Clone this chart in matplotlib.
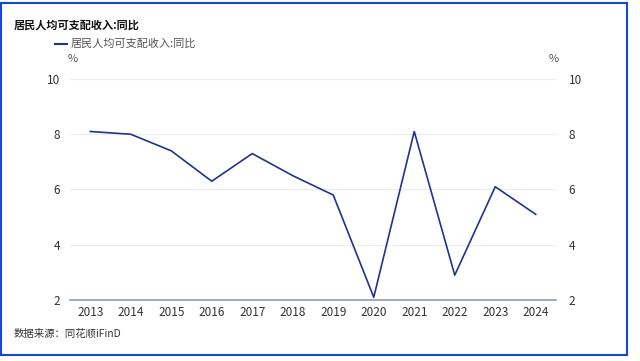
import matplotlib.pyplot as plt
from matplotlib.patches import Rectangle
from matplotlib.lines import Line2D

plt.rcParams['font.family'] = ['Noto Sans CJK SC', 'DejaVu Sans']
plt.rcParams['axes.unicode_minus'] = False

years = ['2013', '2014', '2015', '2016', '2017', '2018',
         '2019', '2020', '2021', '2022', '2023', '2024']
yoy = [8.1, 8.0, 7.4, 6.3, 7.3, 6.5, 5.8, 2.1, 8.1, 2.9, 6.1, 5.1]
yticks = [2, 4, 6, 8, 10]
title = '居民人均可支配收入:同比'
source = '数据来源：同花顺iFinD'

W, H = 640, 361
fig = plt.figure(figsize=(W / 100, H / 100), dpi=100)

# 外框
fig.patches.append(Rectangle((1 / W, (H - 355) / H), 626 / W, 352 / H,
                             transform=fig.transFigure, fill=False,
                             edgecolor='#1447d6', linewidth=1.5))

ax = fig.add_axes([70 / W, (H - 300) / H, 486 / W, 221 / H])
x = range(len(years))
line_color = '#23328c'
ax.plot(x, yoy, color=line_color, linewidth=1.2)
ax.set_xlim(-0.5, len(years) - 0.5)
ax.set_ylim(2, 10)
ax.set_xticks(list(x))
ax.set_xticklabels(years)
ax.set_yticks(yticks)
ax.grid(axis='y', color='#ececf2', linewidth=0.8)
ax.set_axisbelow(True)
for s in ['top', 'left', 'right']:
    ax.spines[s].set_visible(False)
ax.spines['bottom'].set_color('#8a99bd')
ax.spines['bottom'].set_linewidth(1.2)
ax.tick_params(axis='both', length=0, labelsize=8.5, colors='#333333')
ax.tick_params(axis='x', pad=4)
ax.tick_params(axis='y', pad=7)

ax2 = ax.twinx()
ax2.set_ylim(2, 10)
ax2.set_yticks(yticks)
for s in ['top', 'left', 'right', 'bottom']:
    ax2.spines[s].set_visible(False)
ax2.tick_params(axis='y', length=0, labelsize=8.5, colors='#333333', pad=9)

fig.text(14 / W, 1 - 25 / H, title, fontsize=8, fontweight='bold',
         va='center', ha='left', color='#111111')
fig.add_artist(Line2D([55 / W, 67 / W], [1 - 44 / H, 1 - 44 / H],
                      color=line_color, linewidth=1.5))
fig.text(71 / W, 1 - 44 / H, title, fontsize=8, va='center', ha='left',
         color='#555555')
fig.text(73 / W, 1 - 59 / H, '%', fontsize=8, va='center', ha='center',
         color='#555555')
fig.text(554 / W, 1 - 59 / H, '%', fontsize=8, va='center', ha='center',
         color='#555555')
fig.text(14 / W, 1 - 334 / H, source, fontsize=7.5, va='center', ha='left',
         color='#333333')

fig.savefig('out.png', dpi=100)
